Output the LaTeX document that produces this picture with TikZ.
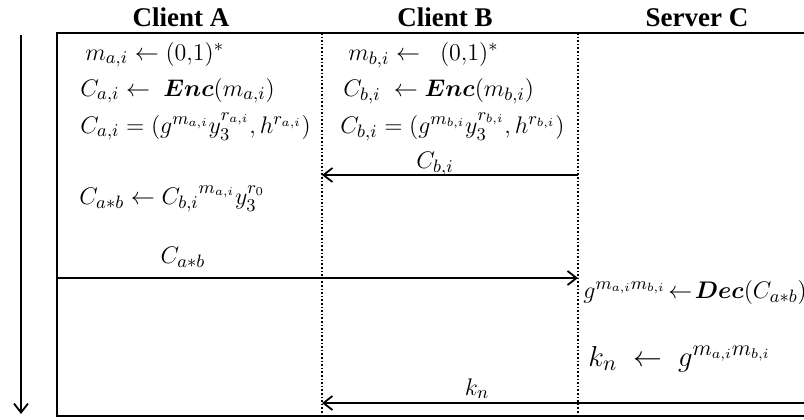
\documentclass[tikz,border=0pt]{standalone}
\usepackage{amsmath,bm}
\usepackage{fontspec}
\setmainfont{Liberation Serif}
\usetikzlibrary{arrows.meta}
\tikzset{
  >={Straight Barb[length=4.5pt,width=7pt]},
  head/.style={font=\fontsize{13.5}{16}\selectfont\bfseries,anchor=base,inner sep=0pt},
  eq/.style={anchor=base west,inner sep=0pt,font=\fontsize{13}{16}\selectfont},
  lab/.style={anchor=base,inner sep=0pt,font=\fontsize{13}{16}\selectfont},
  frame/.style={line width=1.2pt},
  life/.style={densely dotted,line width=0.8pt},
  msg/.style={->,line width=0.9pt},
}

\begin{document}
\begin{tikzpicture}[x=0.5pt,y=-0.5pt]
\clip (0,0) rectangle (804,419);
% parties
\node[head] (hA) at (181,26) {Client A};
\node[head] (hB) at (445,26) {Client B};
\node[head] (hC) at (697,26) {Server C};
% frame and lifelines
\coordinate (A0) at (57,33); \coordinate (A1) at (57,416);
\coordinate (B0) at (322,33); \coordinate (B1) at (322,416);
\coordinate (C0) at (578,33); \coordinate (C1) at (578,416);
\coordinate (E0) at (830,33); \coordinate (E1) at (830,416);
\draw[frame] (E0) -- (A0) -- (A1) -- (E1);
\draw[life] (B0) -- (B1); \draw[life] (C0) -- (C1);
% time runs down
\coordinate (t0) at (21,35); \coordinate (t1) at (21,414);
\draw[msg] (t0) -- (t1);
% client A
\node[eq] (a1) at (85,60) {$m_{a,i} \leftarrow (0{,}1)^*$};
\node[eq] (a2) at (80,96) {$C_{a,i} \leftarrow\; \bm{Enc}(m_{a,i})$};
\node[eq] (a3) at (80,133) {$C_{a,i} = (g^{m_{a,i}} y_3^{r_{a,i}}, h^{r_{a,i}})$};
\node[eq] (a4) at (79,204) {$C_{a*b} \leftarrow {C_{b,i}}^{m_{a,i}} y_3^{r_0}$};
% client B
\node[eq] (b1) at (348,60) {$m_{b,i} \leftarrow\;\; (0{,}1)^*$};
\node[eq] (b2) at (343,96) {$C_{b,i}\; \leftarrow \bm{Enc}(m_{b,i})$};
\node[eq] (b3) at (340,133) {$C_{b,i} = (g^{m_{b,i}} y_3^{r_{b,i}}, h^{r_{b,i}})$};
% server C
\node[eq,font=\fontsize{12.5}{15}\selectfont] (c1) at (583,298) {$g^{m_{a,i}m_{b,i}}\!\leftarrow\!\bm{Dec}(C_{a*b})$};
\node[eq,font=\fontsize{15}{18}\selectfont] (c2) at (588,366) {$k_n \;\leftarrow\; g^{m_{a,i}m_{b,i}}$};
% messages
\coordinate (cb1) at (578,175); \coordinate (cb2) at (322,175);
\coordinate (ab1) at (57,278); \coordinate (ab2) at (578,278);
\coordinate (kn1) at (830,403); \coordinate (kn2) at (322,403);
\draw[msg] (cb1) -- (cb2); \node[lab] (lcb) at (435,168) {$C_{b,i}$};
\draw[msg] (ab1) -- (ab2); \node[lab] (lab) at (183,263) {$C_{a*b}$};
\draw[msg] (kn1) -- (kn2); \node[lab] (lkn) at (477,395) {$k_n$};
\end{tikzpicture}
\end{document}
